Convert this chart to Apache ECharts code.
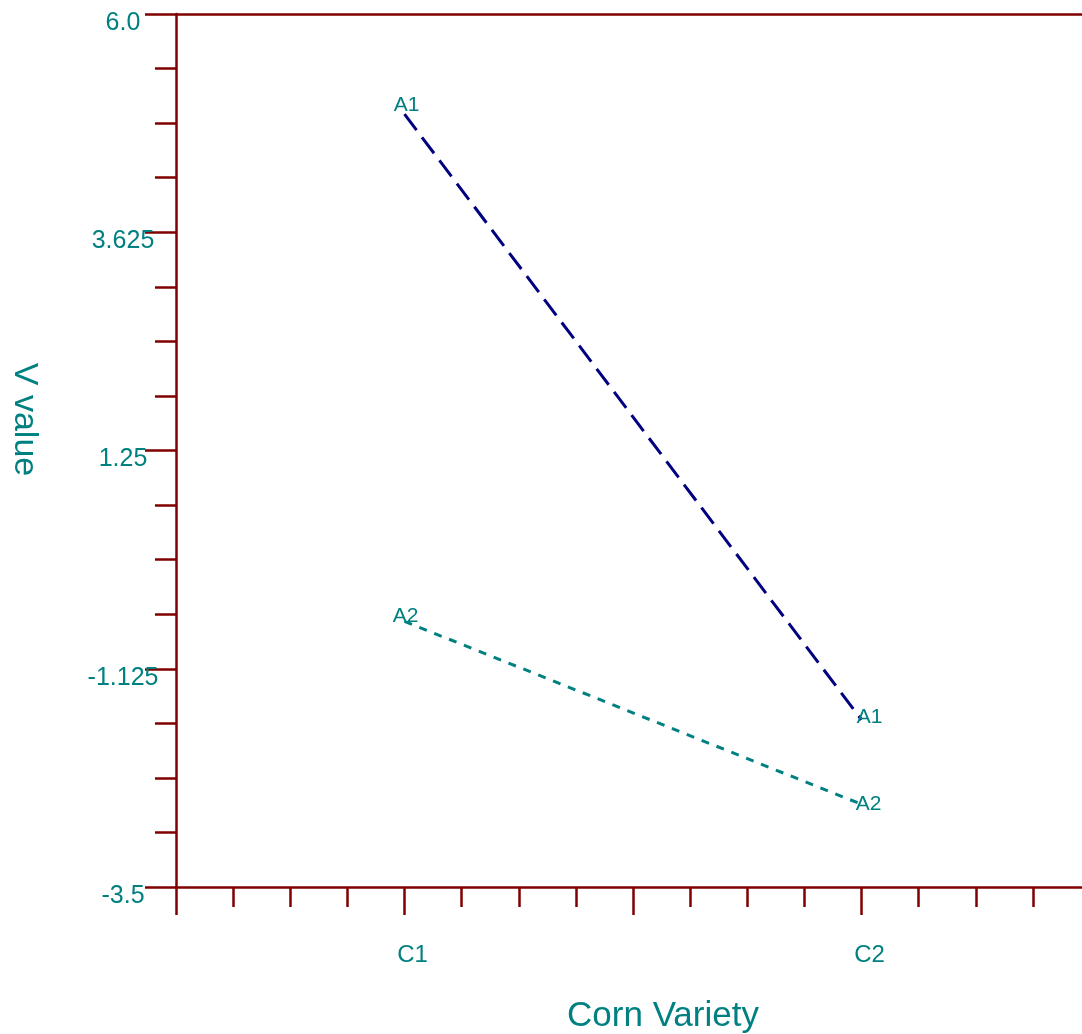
<!DOCTYPE html>
<html>
<head>
<meta charset="utf-8">
<script src="https://cdn.jsdelivr.net/npm/echarts@6/dist/echarts.min.js"></script>
<style>
  html, body { margin: 0; padding: 0; background: #fff; }
  #chart { width: 1082px; height: 1034px; }
</style>
</head>
<body>
<div id="chart"></div>
<script>
// data
var categories = ['C1', 'C2']
var categoryPos = [4, 12] // where each variety sits on the 0..16 axis
var seriesNames = ['A1', 'A2']
var a1Values = [4.91, -1.68]
var a2Values = [-0.61, -2.6]
var yTickLabels = ['-3.5', '-1.125', '1.25', '3.625', '6.0']

var teal = '#008080'
var maroon = '#800000'
var navy = '#000080'
var font = 'Liberation Sans, Arial, sans-serif'

// label nudges (px) per point, so the letters sit like the original
var nudgeA1 = [[2, -9], [8, -3]]
var nudgeA2 = [[1, -5], [7, 0]]

function makeData(values, nudges) {
  var out = []
  for (var i = 0; i < values.length; i++) {
    out.push({
      value: [categoryPos[i], values[i]],
      label: { offset: nudges[i] }
    })
  }
  return out
}

var chart = echarts.init(document.getElementById('chart'))

var axisLine = { show: true, onZero: false, lineStyle: { color: maroon, width: 2.5 }}

var option = {
  backgroundColor: '#fff',
  animation: false,
  grid: { left: 176, top: 14, right: -8, bottom: 147, containLabel: false, outerBoundsMode: 'none' },
  xAxis: [
    {
      type: 'value',
      position: 'bottom',
      min: 0,
      max: 16,
      interval: 4,
      axisLine: axisLine,
      axisTick: { show: true, length: 28, lineStyle: { color: maroon, width: 2.5 }},
      minorTick: { show: true, splitNumber: 4, length: 20, lineStyle: { color: maroon, width: 2.5 }},
      splitLine: { show: false },
      axisLabel: {
        color: teal,
        fontFamily: font,
        fontSize: 24,
        margin: 56,
        padding: [0, 0, 0, 16],
        formatter: function(v) {
          var k = categoryPos.indexOf(v)
          return k >= 0 ? categories[k] : ''
        }
      },
      name: 'Corn Variety',
      nameLocation: 'middle',
      nameGap: 112,
      nameTextStyle: { color: teal, fontFamily: font, fontSize: 35, padding: [0, 0, 0, 60] }
    },
    {
      type: 'value',
      position: 'top',
      min: 0,
      max: 16,
      axisLine: axisLine,
      axisTick: { show: false },
      axisLabel: { show: false },
      splitLine: { show: false }
    }
  ],
  yAxis: {
    type: 'value',
    min: -3.5,
    max: 6,
    interval: 2.375,
    axisLine: axisLine,
    axisTick: { show: true, length: 31, lineStyle: { color: maroon, width: 2.5 }},
    minorTick: { show: true, splitNumber: 4, length: 21, lineStyle: { color: maroon, width: 2.5 }},
    splitLine: { show: false },
    axisLabel: {
      color: teal,
      fontFamily: font,
      fontSize: 25,
      align: 'center',
      verticalAlign: 'top',
      lineHeight: 18,
      margin: 53,
      formatter: function(v, idx) {
        return yTickLabels[idx]
      }
    },
    name: 'V value',
    nameLocation: 'middle',
    nameRotate: -90,
    nameGap: 135,
    nameTextStyle: { color: teal, fontFamily: font, fontSize: 34, padding: [0, 62, 0, 0] }
  },
  series: [
    {
      name: seriesNames[0],
      type: 'line',
      data: makeData(a1Values, nudgeA1),
      symbol: 'circle',
      symbolSize: 1,
      itemStyle: { color: 'rgba(0,0,0,0)' },
      lineStyle: { color: navy, width: 3, type: [20, 9] },
      label: {
        show: true,
        position: 'inside',
        formatter: seriesNames[0],
        color: teal,
        fontFamily: font,
        fontSize: 21
      }
    },
    {
      name: seriesNames[1],
      type: 'line',
      data: makeData(a2Values, nudgeA2),
      symbol: 'circle',
      symbolSize: 1,
      itemStyle: { color: 'rgba(0,0,0,0)' },
      lineStyle: { color: teal, width: 3, type: [8, 8] },
      label: {
        show: true,
        position: 'inside',
        formatter: seriesNames[1],
        color: teal,
        fontFamily: font,
        fontSize: 21
      }
    }
  ]
}

chart.setOption(option)
</script>
</body>
</html>
